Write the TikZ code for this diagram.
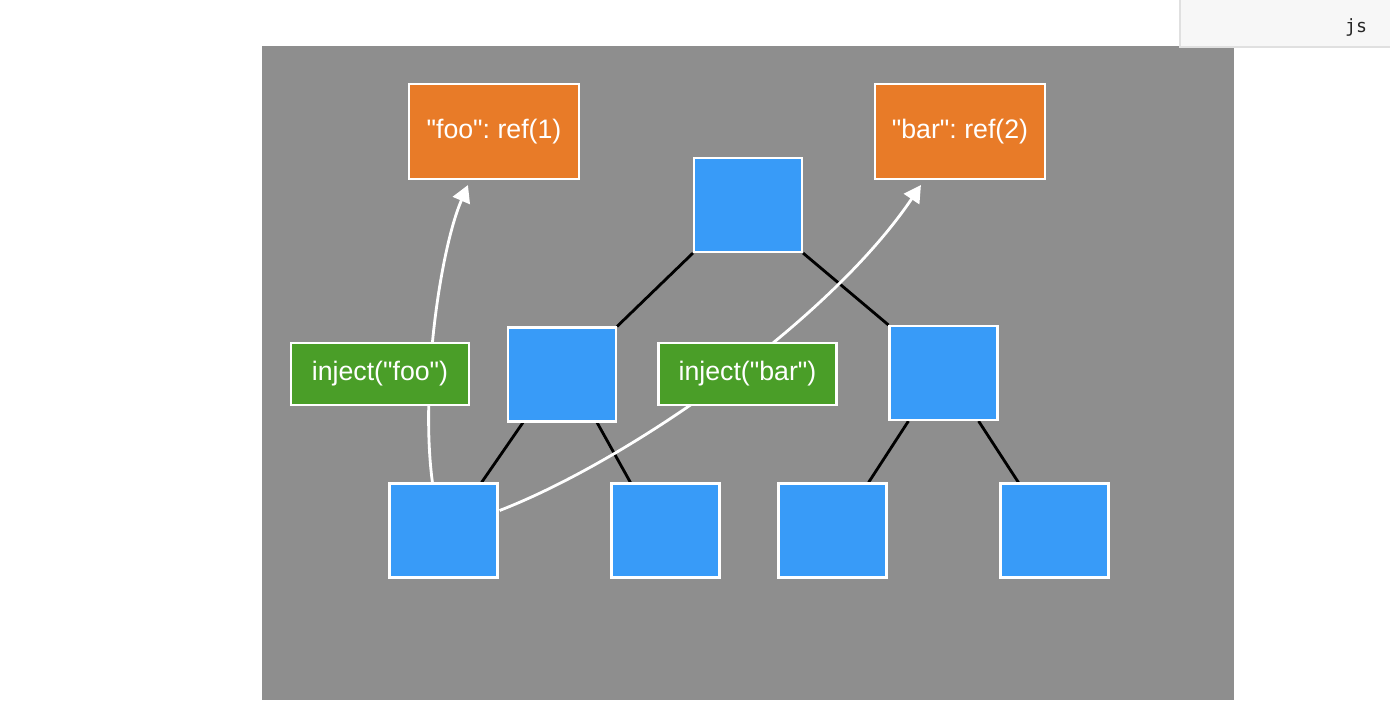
\documentclass[tikz,border=0pt]{standalone}
\usepackage{fontspec}
\newfontfamily\lsans{Liberation Sans}
\setmonofont{DejaVu Sans Mono}
\usetikzlibrary{arrows.meta,calc}
\pgfdeclarelayer{bg}
\pgfdeclarelayer{edges}
\pgfdeclarelayer{arr}
\pgfsetlayers{bg,edges,arr,main}
\definecolor{panelgray}{RGB}{142,142,142}
\definecolor{reforange}{RGB}{232,123,40}
\definecolor{treeblue}{RGB}{56,155,248}
\definecolor{injgreen}{RGB}{74,158,40}
\frenchspacing
\begin{document}
\begin{tikzpicture}[x=0.025cm,y=-0.025cm,
  box/.style={draw=white,line width=1.5pt,inner sep=0pt,text=white,font=\lsans\fontsize{19}{23}\selectfont},
  refbox/.style={box,fill=reforange,minimum width=4.25cm,minimum height=2.375cm},
  treebox/.style={box,fill=treeblue,minimum width=2.7cm,minimum height=2.35cm},
  injbox/.style={box,fill=injgreen,minimum width=4.45cm,minimum height=1.55cm},
  treeedge/.style={line width=2pt,black},
  injarrow/.style={white,line width=2pt,-{Triangle[width=13pt,length=12pt]}},
  tab/.style={draw=black!12,fill=black!3,line width=0.8pt,inner sep=0pt},
  tabtext/.style={font=\ttfamily\fontsize{13}{15}\selectfont,text=black!85}
]
\useasboundingbox (0,0) rectangle (1390,719);
\begin{pgfonlayer}{bg}
  \fill[white] (0,0) rectangle (1390,719);
  \fill[panelgray] (262,46) rectangle (1234,700);
\end{pgfonlayer}

% nodes
\node[refbox] (foo) at (494,131.5) {"foo": ref(1)};
\node[refbox] (bar) at (960,131.5) {"bar": ref(2)};
\node[treebox] (top) at (748,205) {};
\node[treebox] (ml) at (562,374.5) {};
\node[treebox] (mr) at (943.5,373) {};
\node[treebox] (b1) at (443.5,530.5) {};
\node[treebox] (b2) at (665.5,530.5) {};
\node[treebox] (b3) at (832.5,530.5) {};
\node[treebox] (b4) at (1054.5,530.5) {};
\node[injbox] (ifoo) at (380,374) {inject("foo")};
\node[injbox] (ibar) at (747.5,374) {inject("bar")};

% tree edges
\begin{pgfonlayer}{edges}
  \draw[treeedge] (top.south west) -- (ml.north east);
  \draw[treeedge] (top.south east) -- (mr.north west);
  \draw[treeedge] ($(ml.south west)+(16,0)$) -- ($(b1.north east)+(-17,0)$);
  \draw[treeedge] ($(ml.south east)+(-20,0)$) -- ($(b2.north west)+(20,0)$);
  \draw[treeedge] ($(mr.south west)+(20,0)$) -- ($(b3.north east)+(-19,0)$);
  \draw[treeedge] ($(mr.south east)+(-20,0)$) -- ($(b4.north west)+(19,0)$);
\end{pgfonlayer}

% inject arrows
\begin{pgfonlayer}{arr}
  \coordinate (footip) at ($(foo.south west)+(60,5)$);
  \coordinate (bartip) at ($(bar.south west)+(47,5)$);
  \draw[injarrow] ($(b1.north west)+(44,0)$) .. controls (420,390) and (440,250) .. (footip);
  \draw[injarrow] ($(b1.east)+(1,-20)$) .. controls (630,460) and (830,320) .. (bartip);
\end{pgfonlayer}

% tab
\path[tab] (1180,-2) rectangle (1392,47);
\node[tabtext] (js) at (1356,27) {js};
\end{tikzpicture}
\end{document}
